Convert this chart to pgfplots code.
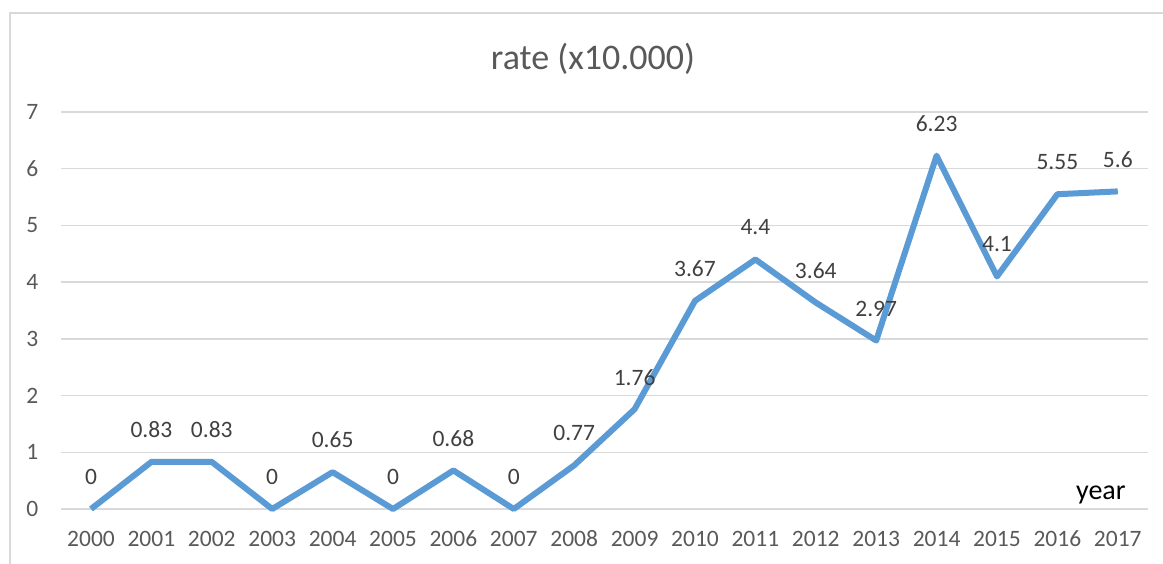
\documentclass[border=0pt]{standalone}
\usepackage{pgfplots}
\pgfplotsset{compat=1.18}
\usepackage{fontspec}
\setmainfont{Carlito}
\definecolor{linecol}{HTML}{5B9BD5}
\definecolor{gridcol}{HTML}{D9D9D9}
\definecolor{tickcol}{HTML}{595959}
\definecolor{labcol}{HTML}{404040}
\definecolor{framecol}{HTML}{D9D9D9}
\begin{document}
\begin{tikzpicture}
\useasboundingbox (0pt,0pt) rectangle (1163pt,564pt);
\draw[framecol, line width=1.2pt] (10pt,0pt) -- (10pt,551pt) -- (1163pt,551pt);
\node[font=\fontsize{36}{40}\selectfont, text=tickcol] at (593pt,505pt) {rate (x10.000)};
\begin{axis}[
  at={(60.8pt,55pt)}, anchor=south west,
  scale only axis, width=1087.2pt, height=397pt,
  xmin=1999.5, xmax=2017.5, ymin=0, ymax=7,
  xtick={2000,2001,...,2017}, ytick={0,1,...,7},
  ymajorgrids, grid style={draw=gridcol, line width=1.4pt},
  axis line style={draw=none}, major tick length=0pt,
  /pgf/number format/assume math mode=true,
  tick label style={font=\fontsize{23.5}{25}\selectfont, text=tickcol},
  xticklabel style={anchor=center, yshift=-30pt, /pgf/number format/1000 sep={}},
  yticklabel style={anchor=center, xshift=-28.5pt},
  clip=false,
  nodes near coords,
  nodes near coords style={anchor=center, yshift=32pt, font=\fontsize{23.5}{25}\selectfont, text=labcol},
]
\addplot[linecol, line width=6pt, line join=round, mark=none] coordinates {
(2000,0) (2001,0.83) (2002,0.83) (2003,0) (2004,0.65) (2005,0) (2006,0.68) (2007,0)
(2008,0.77) (2009,1.76) (2010,3.67) (2011,4.4) (2012,3.64) (2013,2.97) (2014,6.23)
(2015,4.1) (2016,5.55) (2017,5.6)};
\node[font=\fontsize{28}{30}\selectfont, text=black] at (axis cs:2016.72,0.24) {year};
\end{axis}
\end{tikzpicture}
\end{document}
